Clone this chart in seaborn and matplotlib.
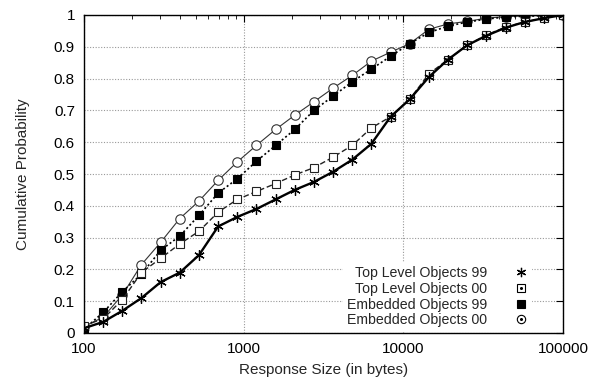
import numpy as np
import pandas as pd
import matplotlib
matplotlib.use("Agg")
import matplotlib.pyplot as plt
from matplotlib.lines import Line2D
from matplotlib.ticker import LogLocator, FixedLocator, NullFormatter
import seaborn as sns

# Response sizes (bytes) at which the CDFs are sampled
sizes = [100, 132, 174, 229, 302, 398, 525, 692, 912, 1202, 1585, 2089, 2754,
         3631, 4786, 6310, 8318, 10965, 14454, 19055, 25119, 33113, 43652,
         57544, 75858, 100000]

top_level_99 = [0.015, 0.035, 0.07, 0.11, 0.16, 0.19, 0.245, 0.335, 0.365, 0.39,
                0.42, 0.45, 0.475, 0.507, 0.545, 0.595, 0.68, 0.735, 0.805,
                0.86, 0.905, 0.935, 0.96, 0.978, 0.99, 1.0]
top_level_00 = [0.023, 0.045, 0.105, 0.19, 0.235, 0.28, 0.32, 0.38, 0.42, 0.445,
                0.47, 0.497, 0.52, 0.553, 0.59, 0.645, 0.68, 0.735, 0.815,
                0.86, 0.905, 0.937, 0.962, 0.978, 0.99, 1.0]
embedded_99 = [0.012, 0.065, 0.13, 0.185, 0.26, 0.305, 0.37, 0.44, 0.485, 0.54,
               0.59, 0.64, 0.70, 0.745, 0.79, 0.83, 0.87, 0.91, 0.945, 0.965,
               0.978, 0.987, 0.994, 0.996, 0.998, 1.0]
embedded_00 = [0.02, 0.05, 0.12, 0.215, 0.285, 0.36, 0.415, 0.48, 0.538, 0.59,
               0.64, 0.685, 0.727, 0.77, 0.81, 0.855, 0.883, 0.91, 0.955, 0.972,
               0.98, 0.99, 0.995, 0.997, 0.999, 1.0]

series_names = ["Top Level Objects 99", "Top Level Objects 00",
                "Embedded Objects 99", "Embedded Objects 00"]
x_ticks = [100, 1000, 10000, 100000]
x_tick_labels = ["100", "1000", "10000", "100000"]
y_ticks = [0, 0.1, 0.2, 0.3, 0.4, 0.5, 0.6, 0.7, 0.8, 0.9, 1]
y_tick_labels = ["0", "0.1", "0.2", "0.3", "0.4", "0.5", "0.6", "0.7", "0.8", "0.9", "1"]

df = pd.DataFrame({
    "size": sizes * 4,
    "prob": top_level_99 + top_level_00 + embedded_99 + embedded_00,
    "series": np.repeat(series_names, len(sizes)),
})

sns.set_style("white")
plt.rcParams["font.family"] = ["Liberation Sans", "DejaVu Sans"]
FS = 11

fig = plt.figure(figsize=(5.9, 3.81), dpi=100)
ax = fig.add_axes([84 / 590, 48 / 381, (563 - 84) / 590, (333 - 15) / 381])

asterisk = (6, 2, 0)
styles = {
    "Top Level Objects 99": dict(ls="-", lw=1.7, marker=asterisk, ms=7.5, mfc="black", mew=0.9, color="black"),
    "Top Level Objects 00": dict(ls=(0, (4, 2)), lw=1.0, marker="s", ms=6.3, mfc="white", mew=0.8, color="#222222"),
    "Embedded Objects 99": dict(ls=(0, (1.2, 1.5)), lw=1.2, marker="s", ms=6.3, mfc="black", mew=0.8, color="black"),
    "Embedded Objects 00": dict(ls="-", lw=0.8, marker="o", ms=6.8, mfc="white", mew=0.8, color="#333333"),
}

# draw in reverse so the solid Top Level 99 line sits on top
for name in series_names[::-1]:
    st = styles[name]
    sub = df[df["series"] == name]
    sns.lineplot(data=sub, x="size", y="prob", ax=ax, color=st["color"],
                 linestyle=st["ls"], linewidth=st["lw"], marker=st["marker"],
                 markersize=st["ms"], markerfacecolor=st["mfc"],
                 markeredgecolor=st["color"], markeredgewidth=st["mew"],
                 legend=False, estimator=None, sort=False)

ax.set_xscale("log")
ax.set_xlim(100, 100000)
ax.set_ylim(0, 1)

ax.xaxis.set_major_locator(FixedLocator(x_ticks))
ax.set_xticklabels(x_tick_labels)
ax.xaxis.set_minor_locator(LogLocator(base=10, subs=np.arange(2, 10)))
ax.xaxis.set_minor_formatter(NullFormatter())
ax.set_yticks(y_ticks)
ax.set_yticklabels(y_tick_labels)

ax.tick_params(axis="both", which="both", direction="in", top=True, right=True,
               labelsize=FS, colors="black", pad=6.5)
ax.tick_params(axis="both", which="major", length=5, width=0.8)
ax.tick_params(axis="x", which="minor", length=3, width=0.6)

ax.grid(True, which="major", color="#999999", linestyle=(0, (1, 1.5)), linewidth=0.8)
ax.set_axisbelow(True)
for sp in ax.spines.values():
    sp.set_color("black")
    sp.set_linewidth(1.0)

ax.set_xlabel("Response Size (in bytes)", fontsize=FS, labelpad=5)
ax.set_ylabel("Cumulative Probability", fontsize=FS, labelpad=17)

# legend keys: marker only, open symbols carry a centre dot
handles = []
for name in series_names:
    st = styles[name]
    key = Line2D([], [], linestyle="none", marker=st["marker"],
                 markersize=st["ms"] - 0.8, markerfacecolor=st["mfc"],
                 markeredgecolor="black", markeredgewidth=st["mew"])
    if st["mfc"] == "white":
        dot = Line2D([], [], linestyle="none", marker="o", markersize=1.2,
                     markerfacecolor="black", markeredgecolor="black")
        handles.append((key, dot))
    else:
        handles.append(key)
leg = ax.legend(handles, series_names, loc="lower right",
                bbox_to_anchor=(0.951, -0.018), markerfirst=False, frameon=True,
                fancybox=False, facecolor="white", edgecolor="none", framealpha=1,
                fontsize=10.2, handlelength=1.0, handletextpad=1.9,
                labelspacing=0.12, borderpad=0.3)
leg.set_zorder(5)

fig.savefig("out.png", dpi=100)
